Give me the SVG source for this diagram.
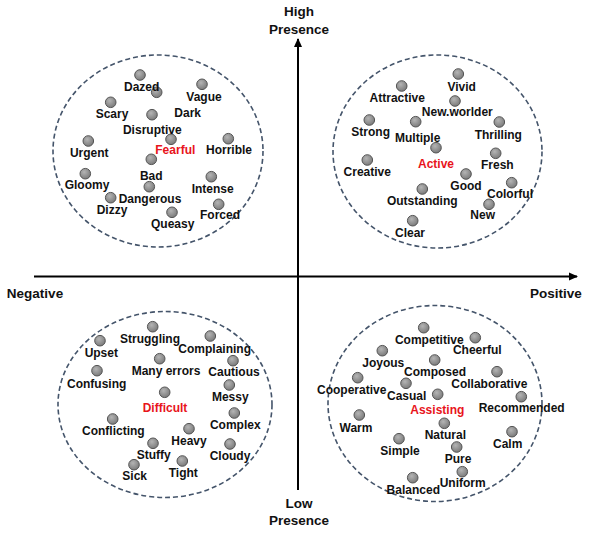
<svg xmlns="http://www.w3.org/2000/svg" width="598" height="534" viewBox="0 0 598 534">
<style>
.lbl{font-family:"Liberation Sans",Arial,sans-serif;font-weight:bold;font-size:12px;fill:#111;text-anchor:middle}
.red{fill:#e8141b}
.ax{font-family:"Liberation Sans",Arial,sans-serif;font-weight:bold;font-size:13.5px;fill:#111;text-anchor:middle}
.ring{fill:none;stroke:#44546a;stroke-width:1.6;stroke-dasharray:5 3}
.axis{stroke:#000;stroke-width:2;fill:none}
</style>
<defs>
<radialGradient id="g" cx="0.4" cy="0.35" r="0.7">
<stop offset="0" stop-color="#b4b4b4"/>
<stop offset="1" stop-color="#777"/>
</radialGradient>
<marker id="arr" markerWidth="10" markerHeight="10" refX="8" refY="5" orient="auto" markerUnits="userSpaceOnUse">
<path d="M0,1 L9,5 L0,9 Z" fill="#000"/>
</marker>
<symbol id="d" overflow="visible"><circle r="5.3" fill="url(#g)" stroke="#555" stroke-width="1"/></symbol>
</defs>
<rect width="598" height="534" fill="#fff"/>
<g id="connectors">
<line class="axis" x1="298" y1="490" x2="298" y2="39" marker-end="url(#arr)"/>
<line class="axis" x1="34" y1="276.5" x2="577" y2="276.5" marker-end="url(#arr)"/>
</g>
<g id="axis-labels">
<text class="ax" x="299" y="15.5">High</text>
<text class="ax" x="299" y="34">Presence</text>
<text class="ax" x="299" y="507.5">Low</text>
<text class="ax" x="299" y="525">Presence</text>
<text class="ax" x="35" y="298">Negative</text>
<text class="ax" x="556" y="298">Positive</text>
</g>
<g id="fearful">
<ellipse class="ring" cx="158" cy="151" rx="105" ry="96"/>
<use href="#d" x="140" y="75"/><use href="#d" x="156.7" y="92.3"/><use href="#d" x="202" y="84.3"/>
<use href="#d" x="110.7" y="102.3"/><use href="#d" x="152" y="114.7"/><use href="#d" x="88.3" y="141"/>
<use href="#d" x="171" y="139.3"/><use href="#d" x="228.3" y="138.7"/><use href="#d" x="151.3" y="159.3"/>
<use href="#d" x="85.3" y="173.7"/><use href="#d" x="211.3" y="176.7"/><use href="#d" x="149.3" y="186.7"/>
<use href="#d" x="110.7" y="197.7"/><use href="#d" x="218.7" y="204.3"/><use href="#d" x="172" y="212.3"/>
<text class="lbl" x="141.7" y="91">Dazed</text>
<text class="lbl" x="204" y="101">Vague</text>
<text class="lbl" x="112" y="117.6">Scary</text>
<text class="lbl" x="187.7" y="117">Dark</text>
<text class="lbl" x="152.3" y="133.6">Disruptive</text>
<text class="lbl" x="89.3" y="157">Urgent</text>
<text class="lbl red" x="175.3" y="154.3">Fearful</text>
<text class="lbl" x="229" y="154.3">Horrible</text>
<text class="lbl" x="151.3" y="180.3">Bad</text>
<text class="lbl" x="87" y="189.3">Gloomy</text>
<text class="lbl" x="212.7" y="192.6">Intense</text>
<text class="lbl" x="150" y="203.3">Dangerous</text>
<text class="lbl" x="112" y="214.3">Dizzy</text>
<text class="lbl" x="220" y="219.3">Forced</text>
<text class="lbl" x="172.7" y="227.6">Queasy</text>
</g>
<g id="active">
<ellipse class="ring" cx="437.5" cy="151.5" rx="104.5" ry="96.5"/>
<use href="#d" x="458.3" y="74"/><use href="#d" x="401.7" y="86"/><use href="#d" x="455" y="101"/>
<use href="#d" x="369.3" y="120"/><use href="#d" x="415.7" y="121.7"/><use href="#d" x="499.3" y="122"/>
<use href="#d" x="436" y="147.7"/><use href="#d" x="495.7" y="153.3"/><use href="#d" x="367.3" y="160"/>
<use href="#d" x="466" y="174"/><use href="#d" x="511.7" y="182.7"/><use href="#d" x="422.3" y="189"/>
<use href="#d" x="489" y="204.3"/><use href="#d" x="412.7" y="220.7"/>
<text class="lbl" x="461.7" y="91">Vivid</text>
<text class="lbl" x="397.3" y="102">Attractive</text>
<text class="lbl" x="457.3" y="116">New.worlder</text>
<text class="lbl" x="370.7" y="136">Strong</text>
<text class="lbl" x="417.7" y="141.6">Multiple</text>
<text class="lbl" x="498.3" y="138.6">Thrilling</text>
<text class="lbl red" x="436" y="168.3">Active</text>
<text class="lbl" x="497.3" y="168.6">Fresh</text>
<text class="lbl" x="367.3" y="176">Creative</text>
<text class="lbl" x="466" y="190.3">Good</text>
<text class="lbl" x="510" y="198.3">Colorful</text>
<text class="lbl" x="422.3" y="205">Outstanding</text>
<text class="lbl" x="482.7" y="219.3">New</text>
<text class="lbl" x="410" y="236.6">Clear</text>
</g>
<g id="difficult">
<ellipse class="ring" cx="165" cy="404.5" rx="107" ry="93"/>
<use href="#d" x="152.7" y="326.7"/><use href="#d" x="210.3" y="336"/><use href="#d" x="100" y="340.7"/>
<use href="#d" x="159.7" y="358.7"/><use href="#d" x="233" y="360.7"/><use href="#d" x="97" y="370.7"/>
<use href="#d" x="229.3" y="385"/><use href="#d" x="164.7" y="392.3"/><use href="#d" x="234.3" y="413"/>
<use href="#d" x="112.7" y="419"/><use href="#d" x="189" y="428.7"/><use href="#d" x="153" y="443.3"/>
<use href="#d" x="230" y="444"/><use href="#d" x="182.3" y="461"/><use href="#d" x="134" y="464.7"/>
<text class="lbl" x="150" y="342.6">Struggling</text>
<text class="lbl" x="101.3" y="356.6">Upset</text>
<text class="lbl" x="214.7" y="352.6">Complaining</text>
<text class="lbl" x="166" y="375">Many errors</text>
<text class="lbl" x="234" y="376">Cautious</text>
<text class="lbl" x="96.7" y="387.6">Confusing</text>
<text class="lbl" x="230.3" y="401">Messy</text>
<text class="lbl red" x="165" y="411.6">Difficult</text>
<text class="lbl" x="235.3" y="429">Complex</text>
<text class="lbl" x="113.3" y="435.3">Conflicting</text>
<text class="lbl" x="189" y="445.3">Heavy</text>
<text class="lbl" x="153.7" y="459">Stuffy</text>
<text class="lbl" x="230" y="459.6">Cloudy</text>
<text class="lbl" x="183.3" y="477">Tight</text>
<text class="lbl" x="134.7" y="480.3">Sick</text>
</g>
<g id="assisting">
<ellipse class="ring" cx="435" cy="403.5" rx="107" ry="98"/>
<use href="#d" x="423.7" y="327.7"/><use href="#d" x="475.3" y="337.7"/><use href="#d" x="382.3" y="350.7"/>
<use href="#d" x="434.7" y="360"/><use href="#d" x="497" y="371.7"/><use href="#d" x="357.7" y="377.7"/>
<use href="#d" x="406" y="383.3"/><use href="#d" x="437.7" y="394.3"/><use href="#d" x="521.3" y="396.7"/>
<use href="#d" x="359.3" y="415"/><use href="#d" x="444.3" y="423.3"/><use href="#d" x="512" y="431.7"/>
<use href="#d" x="399" y="438.7"/><use href="#d" x="456.7" y="447"/><use href="#d" x="462.3" y="471.7"/>
<use href="#d" x="412.7" y="477.7"/>
<text class="lbl" x="429.3" y="343.6">Competitive</text>
<text class="lbl" x="477.3" y="354.3">Cheerful</text>
<text class="lbl" x="383.3" y="367">Joyous</text>
<text class="lbl" x="435" y="375.6">Composed</text>
<text class="lbl" x="489.3" y="388.3">Collaborative</text>
<text class="lbl" x="351.7" y="393.6">Cooperative</text>
<text class="lbl" x="406.7" y="400">Casual</text>
<text class="lbl" x="521.7" y="412">Recommended</text>
<text class="lbl red" x="437.3" y="414.3">Assisting</text>
<text class="lbl" x="356" y="431.6">Warm</text>
<text class="lbl" x="445.3" y="439.3">Natural</text>
<text class="lbl" x="507.7" y="448.3">Calm</text>
<text class="lbl" x="400" y="455">Simple</text>
<text class="lbl" x="458" y="463.3">Pure</text>
<text class="lbl" x="462.7" y="487">Uniform</text>
<text class="lbl" x="413.3" y="494.3">Balanced</text>
</g>
</svg>
